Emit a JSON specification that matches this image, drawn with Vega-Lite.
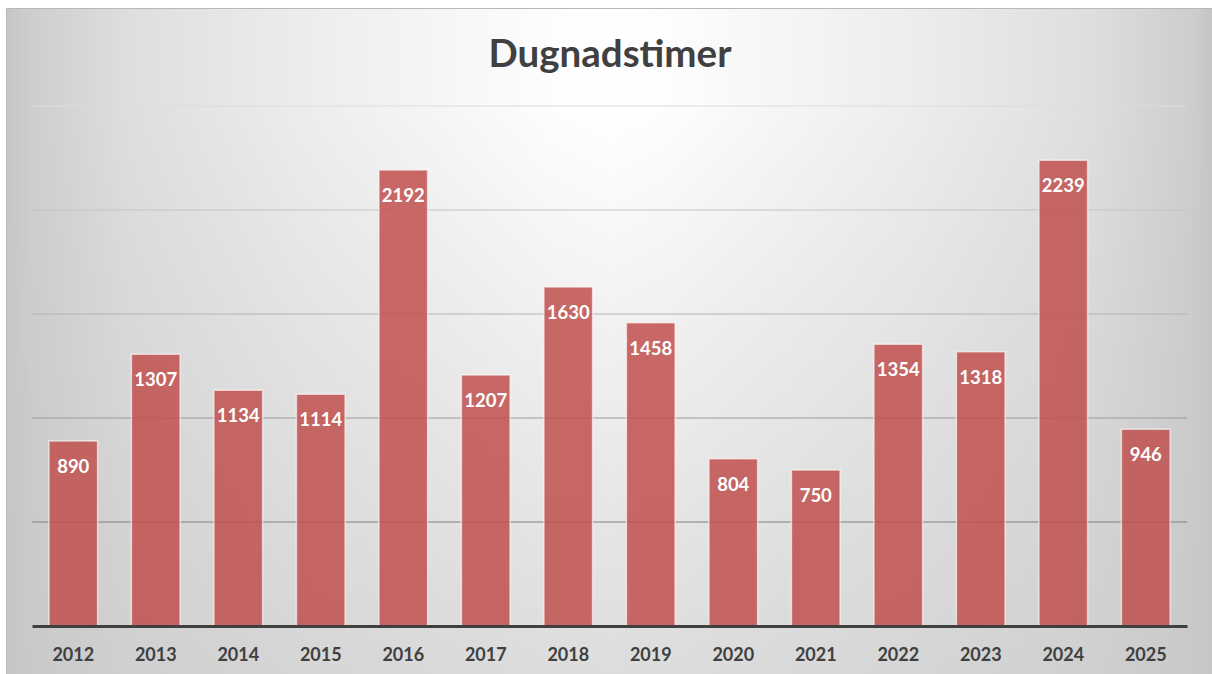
{
  "$schema": "https://vega.github.io/schema/vega-lite/v6.json",
  "width": 1206,
  "height": 666,
  "autosize": {"type": "none"},
  "padding": {"left": 7, "top": 9, "right": 0, "bottom": 0},
  "background": "white",
  "config": {"view": {"stroke": "#b8b8b8", "strokeWidth": 2}},
  "title": {
    "text": "Dugnadstimer",
    "font": "Lato",
    "fontSize": 38.5,
    "fontWeight": "bold",
    "color": "#404040",
    "offset": -96,
    "baseline": "alphabetic",
    "anchor": "middle",
    "frame": "group"
  },
  "datasets": {
    "hours": [
      {"year": "2012", "hours": 890},
      {"year": "2013", "hours": 1307},
      {"year": "2014", "hours": 1134},
      {"year": "2015", "hours": 1114},
      {"year": "2016", "hours": 2192},
      {"year": "2017", "hours": 1207},
      {"year": "2018", "hours": 1630},
      {"year": "2019", "hours": 1458},
      {"year": "2020", "hours": 804},
      {"year": "2021", "hours": 750},
      {"year": "2022", "hours": 1354},
      {"year": "2023", "hours": 1318},
      {"year": "2024", "hours": 2239},
      {"year": "2025", "hours": 946}
    ],
    "grid": [
      {"g": 500}, {"g": 1000}, {"g": 1500}, {"g": 2000}, {"g": 2500}
    ],
    "bg": [{}]
  },
  "layer": [
    {
      "data": {"name": "bg"},
      "mark": {
        "type": "rect",
        "fill": {
          "gradient": "linear", "x1": 0, "y1": 0, "x2": 1, "y2": 0,
          "stops": [
            {"offset": 0, "color": "#c6c6c6"},
            {"offset": 0.02, "color": "#cecece"},
            {"offset": 0.1, "color": "#dedede"},
            {"offset": 0.25, "color": "#ededed"},
            {"offset": 0.35, "color": "#f5f5f5"},
            {"offset": 0.45, "color": "#fdfdfd"},
            {"offset": 0.5, "color": "#ffffff"},
            {"offset": 0.55, "color": "#fdfdfd"},
            {"offset": 0.65, "color": "#f5f5f5"},
            {"offset": 0.75, "color": "#ededed"},
            {"offset": 0.9, "color": "#dedede"},
            {"offset": 0.98, "color": "#cecece"},
            {"offset": 1, "color": "#c6c6c6"}
          ]
        }
      },
      "encoding": {}
    },
    {
      "data": {"name": "bg"},
      "mark": {
        "type": "rect",
        "fill": {
          "gradient": "linear", "x1": 0, "y1": 0, "x2": 0, "y2": 1,
          "stops": [
            {"offset": 0, "color": "rgba(198,198,198,0)"},
            {"offset": 0.15, "color": "rgba(198,198,198,0)"},
            {"offset": 0.45, "color": "rgba(198,198,198,0.22)"},
            {"offset": 1, "color": "rgba(198,198,198,0.6)"}
          ]
        }
      },
      "encoding": {}
    },
    {
      "data": {"name": "grid"},
      "mark": {"type": "rule", "strokeWidth": 1},
      "encoding": {
        "y": {"field": "g", "type": "quantitative", "axis": null},
        "x": {"datum": "2012", "type": "ordinal", "bandPosition": -0.347},
        "x2": {"datum": "2025", "bandPosition": 1.347},
        "stroke": {
          "field": "g", "type": "ordinal", "legend": null,
          "scale": {"domain": [500, 1000, 1500, 2000, 2500], "range": ["#808080", "#9a9a9a", "#b4b4b4", "#c4c4c4", "#dcdcdc"]}
        }
      }
    },
    {
      "data": {"name": "hours"},
      "mark": {"type": "bar", "fill": "#c0504d", "fillOpacity": 0.85, "stroke": "white", "strokeOpacity": 0.6, "strokeWidth": 1.5},
      "encoding": {
        "x": {
          "field": "year", "type": "ordinal",
          "scale": {"range": [25, 1180], "paddingInner": 0.41, "paddingOuter": 0.205},
          "axis": {
            "title": null, "orient": "bottom", "offset": -49, "ticks": false,
            "bandPosition": 0.5, "labelAlign": "center",
            "labelFont": "Lato", "labelFontWeight": "bold", "labelFontSize": 18,
            "labelColor": "#404040", "labelPadding": 29, "labelAngle": 0,
            "domainColor": "#404040", "domainWidth": 3, "grid": false, "zindex": 1
          }
        },
        "y": {
          "field": "hours", "type": "quantitative", "axis": null,
          "scale": {"domain": [0, 2500], "range": [617, 97], "nice": false, "zero": true}
        }
      }
    },
    {
      "data": {"name": "hours"},
      "mark": {"type": "text", "color": "white", "font": "Lato", "fontWeight": "bold", "fontSize": 18.5, "baseline": "middle", "dy": 26},
      "encoding": {
        "x": {"field": "year", "type": "ordinal"},
        "y": {"field": "hours", "type": "quantitative", "axis": null},
        "text": {"field": "hours", "type": "quantitative"}
      }
    }
  ]
}
